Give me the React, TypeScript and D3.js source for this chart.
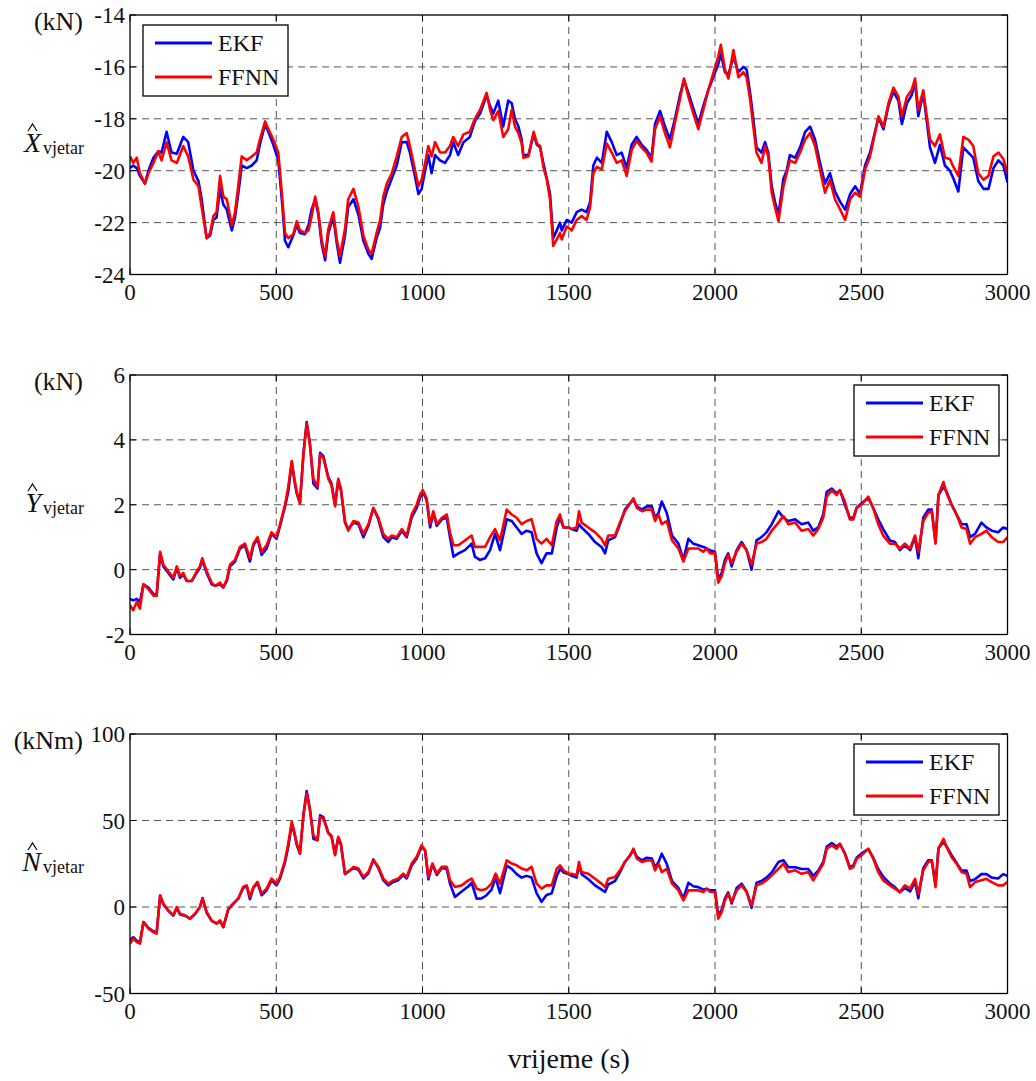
import React from 'react';
import * as d3 from 'd3';

// ---------- data ----------
const xTickValues = [0, 500, 1000, 1500, 2000, 2500, 3000];

const timesX = [0,11,23,34,51,63,80,97,108,125,142,160,182,199,217,234,245,262,274,285,296,308,319,331,348,359,370,382,399,416,433,444,462,473,490,507,519,530,541,558,570,581,598,610,621,633,644,655,667,678,695,707,718,735,746,764,781,798,815,826,843,855,866,878,895,912,929,946,957,974,986,997,1009,1020,1031,1043,1060,1077,1094,1105,1122,1140,1162,1179,1197,1219,1231,1242,1259,1276,1293,1305,1316,1328,1339,1345,1362,1380,1391,1402,1413,1425,1436,1447,1459,1470,1476,1493,1510,1527,1544,1561,1573,1584,1596,1613,1630,1647,1664,1681,1698,1715,1732,1749,1766,1783,1795,1812,1829,1846,1863,1880,1894,1909,1926,1943,1960,1977,1994,2011,2020,2034,2046,2063,2080,2097,2108,2120,2131,2142,2159,2171,2182,2194,2205,2217,2234,2245,2256,2274,2291,2308,2325,2342,2359,2376,2393,2410,2428,2445,2462,2479,2496,2513,2530,2547,2559,2576,2593,2610,2627,2639,2656,2672,2684,2695,2712,2724,2735,2752,2769,2786,2803,2815,2832,2849,2866,2883,2900,2918,2935,2952,2969,2986,3000];
const ffnnX = [-19.45,-19.7,-19.5,-20.1,-20.5,-20.1,-19.7,-19.25,-19.6,-18.9,-19.6,-19.7,-19.05,-19.45,-20.35,-20.6,-21.4,-22.6,-22.4,-21.75,-21.6,-20.2,-21.0,-21.1,-22.1,-21.6,-20.6,-19.45,-19.6,-19.45,-19.3,-18.8,-18.1,-18.4,-18.8,-19.3,-20.85,-22.4,-22.6,-22.45,-21.95,-22.3,-22.4,-22.3,-21.75,-21.0,-21.6,-22.65,-23.3,-22.25,-21.6,-22.65,-23.3,-22.25,-21.1,-20.7,-21.4,-22.5,-23.05,-23.2,-22.4,-21.9,-21.0,-20.5,-20.1,-19.45,-18.7,-18.55,-19.05,-19.95,-20.6,-20.35,-19.7,-19.05,-19.45,-18.9,-19.3,-19.3,-19.05,-18.7,-19.05,-18.6,-18.5,-18.0,-17.65,-17.0,-17.65,-18.05,-17.7,-18.7,-18.4,-17.65,-18.3,-18.55,-18.95,-19.5,-19.45,-18.5,-18.95,-19.05,-19.85,-20.35,-21.1,-22.9,-22.65,-22.4,-22.65,-22.15,-22.3,-21.9,-21.75,-21.9,-21.4,-20.1,-19.85,-19.95,-18.95,-19.3,-19.7,-19.6,-20.2,-19.2,-18.85,-19.1,-19.3,-19.65,-18.4,-17.9,-18.55,-19.1,-18.15,-17.25,-16.45,-17.15,-17.8,-18.4,-17.65,-16.9,-16.25,-15.6,-15.15,-16.1,-16.45,-15.35,-16.4,-16.2,-16.4,-17.25,-18.3,-19.3,-19.7,-19.05,-19.45,-20.85,-21.4,-21.95,-20.6,-20.1,-19.6,-19.7,-19.3,-18.8,-18.55,-19.05,-19.95,-20.85,-20.35,-21.1,-21.5,-21.9,-21.1,-20.85,-21.0,-19.95,-19.45,-18.55,-17.9,-18.3,-17.4,-16.8,-17.15,-17.9,-17.15,-16.9,-16.45,-17.65,-16.9,-17.9,-18.8,-19.05,-18.6,-19.5,-19.55,-19.85,-20.2,-18.7,-18.8,-19.05,-20.1,-20.35,-20.2,-19.45,-19.3,-19.55,-20.1];
const ekfX = [-19.9,-19.8,-19.9,-20.2,-20.5,-20.0,-19.5,-19.25,-19.3,-18.5,-19.3,-19.35,-18.7,-18.9,-20.0,-20.4,-21.1,-22.6,-22.5,-21.9,-21.8,-20.7,-21.3,-21.5,-22.3,-21.8,-20.9,-19.8,-19.9,-19.8,-19.6,-19.0,-18.2,-18.5,-19.0,-19.6,-21.1,-22.7,-22.95,-22.5,-22.1,-22.4,-22.45,-22.1,-21.5,-21.1,-21.7,-22.8,-23.45,-22.4,-21.8,-22.8,-23.55,-22.5,-21.4,-21.1,-21.7,-22.7,-23.2,-23.4,-22.6,-22.2,-21.3,-20.8,-20.3,-19.8,-18.9,-18.9,-19.3,-20.2,-20.9,-20.7,-20.0,-19.4,-20.1,-19.4,-19.6,-19.7,-19.4,-18.9,-19.4,-18.9,-18.7,-18.1,-17.8,-17.1,-17.5,-17.8,-17.3,-18.3,-17.3,-17.4,-18.0,-18.3,-18.8,-19.4,-19.4,-18.6,-19.0,-19.1,-19.7,-20.3,-20.9,-22.6,-22.3,-22.0,-22.3,-21.9,-22.0,-21.6,-21.5,-21.6,-21.2,-19.8,-19.5,-19.7,-18.5,-18.9,-19.4,-19.3,-19.9,-19.0,-18.7,-19.0,-19.2,-19.5,-18.2,-17.7,-18.3,-18.8,-18.0,-17.1,-16.5,-17.0,-17.6,-18.2,-17.5,-16.9,-16.4,-15.9,-15.5,-16.2,-16.3,-15.6,-16.2,-16.0,-16.1,-17.0,-18.0,-19.1,-19.3,-18.9,-19.3,-20.6,-21.2,-21.7,-20.3,-20.0,-19.4,-19.5,-19.1,-18.5,-18.3,-18.8,-19.7,-20.5,-20.1,-20.8,-21.2,-21.5,-20.9,-20.6,-20.9,-19.8,-19.3,-18.5,-17.95,-18.4,-17.5,-16.95,-17.3,-18.2,-17.4,-17.1,-16.6,-17.9,-17.0,-18.1,-19.1,-19.7,-19.0,-19.8,-20.0,-20.3,-20.8,-19.1,-19.3,-19.5,-20.4,-20.7,-20.7,-19.9,-19.6,-19.8,-20.45];

const timesY = [0,11,23,34,46,63,80,91,103,114,131,148,160,171,182,194,211,228,239,247,262,279,291,308,319,331,342,359,376,393,410,422,436,450,467,484,501,513,530,541,553,562,570,581,593,604,615,627,641,650,661,678,689,701,712,721,735,746,764,781,798,815,832,849,866,883,895,912,929,946,963,980,991,1001,1014,1026,1037,1049,1066,1083,1094,1106,1123,1145,1168,1179,1196,1214,1231,1248,1265,1288,1305,1322,1339,1356,1373,1390,1407,1424,1442,1459,1470,1482,1499,1510,1527,1535,1544,1567,1590,1612,1624,1635,1658,1675,1692,1710,1721,1733,1750,1767,1784,1795,1807,1818,1835,1853,1875,1892,1909,1926,1943,1960,1972,1983,2000,2011,2023,2034,2045,2057,2074,2091,2108,2125,2142,2159,2176,2194,2217,2234,2251,2274,2296,2319,2336,2353,2370,2382,2399,2416,2427,2444,2461,2473,2484,2501,2524,2541,2558,2575,2598,2615,2632,2649,2667,2684,2695,2712,2729,2741,2754,2764,2781,2792,2809,2826,2843,2860,2872,2889,2911,2928,2946,2968,2985,3000];
const ffnnY = [-1.1,-1.25,-1.0,-1.2,-0.45,-0.6,-0.8,-0.8,0.55,0.15,-0.05,-0.25,0.1,-0.2,-0.1,-0.35,-0.35,-0.05,0.1,0.35,-0.05,-0.4,-0.5,-0.4,-0.55,-0.3,0.15,0.3,0.7,0.8,0.35,0.8,1.0,0.55,0.75,1.15,1.0,1.4,2.0,2.55,3.35,2.8,2.4,2.05,3.55,4.5,3.85,2.8,2.55,3.55,3.45,2.8,2.6,1.95,2.8,2.5,1.5,1.2,1.5,1.45,1.1,1.4,1.9,1.6,1.1,0.95,1.05,1.0,1.25,1.05,1.7,2.0,2.3,2.45,2.2,1.4,1.8,1.4,1.6,1.7,1.15,0.75,0.75,0.9,1.05,0.7,0.7,0.7,1.0,1.25,0.9,1.85,1.7,1.6,1.4,1.5,1.55,0.95,0.8,0.95,0.75,1.5,1.7,1.3,1.3,1.25,1.3,1.8,1.45,1.3,1.15,0.95,0.75,1.05,1.05,1.45,1.8,2.05,2.2,1.9,1.8,1.85,1.85,1.5,1.7,1.4,1.5,0.9,0.65,0.25,0.65,0.65,0.65,0.55,0.65,0.5,0.5,-0.4,-0.2,0.2,0.45,0.2,0.55,0.8,0.6,0.15,0.8,0.85,0.95,1.2,1.45,1.65,1.4,1.45,1.2,1.25,1.05,1.25,1.6,2.25,2.45,2.3,2.45,2.1,1.55,1.55,1.9,2.0,2.25,1.9,1.4,1.05,0.8,0.8,0.65,0.8,0.65,1.05,0.55,1.5,1.75,1.8,0.8,2.3,2.7,2.35,2.0,1.7,1.3,1.25,0.8,1.0,1.1,1.2,1.0,0.85,0.85,1.0];
const ekfY = [-0.9,-0.95,-0.9,-1.0,-0.45,-0.55,-0.75,-0.8,0.5,0.1,-0.1,-0.3,0.05,-0.25,-0.15,-0.35,-0.35,-0.1,0.05,0.3,-0.1,-0.45,-0.5,-0.45,-0.55,-0.35,0.1,0.25,0.65,0.75,0.25,0.75,0.95,0.45,0.65,1.1,0.95,1.35,1.95,2.4,3.3,2.75,2.35,2.05,3.6,4.55,3.9,2.65,2.5,3.6,3.5,2.85,2.65,2.0,2.75,2.45,1.45,1.25,1.45,1.4,1.0,1.35,1.9,1.55,1.0,0.85,1.0,0.95,1.2,1.0,1.6,1.9,2.2,2.4,2.15,1.3,1.75,1.35,1.55,1.6,1.0,0.4,0.5,0.6,0.8,0.4,0.3,0.35,0.6,1.1,0.6,1.55,1.5,1.3,1.1,1.2,1.15,0.5,0.2,0.5,0.5,1.3,1.6,1.3,1.3,1.25,1.2,1.4,1.3,1.1,0.85,0.7,0.5,0.9,1.0,1.4,1.85,2.05,2.15,1.95,1.85,1.95,1.95,1.6,1.75,2.1,1.75,1.05,0.8,0.3,0.95,0.8,0.75,0.7,0.65,0.6,0.55,-0.3,-0.1,0.3,0.5,0.1,0.6,0.85,0.6,0.0,0.9,1.0,1.15,1.4,1.8,1.6,1.5,1.55,1.4,1.45,1.2,1.3,1.7,2.4,2.5,2.35,2.45,2.0,1.6,1.6,1.9,2.05,2.2,1.9,1.55,1.25,0.9,0.85,0.6,0.75,0.6,1.0,0.35,1.6,1.85,1.85,0.85,2.3,2.55,2.4,2.0,1.7,1.4,1.4,1.0,1.1,1.45,1.3,1.2,1.15,1.3,1.25];

const timesN = [0,11,23,34,46,63,80,91,103,114,131,148,160,171,188,205,222,239,248,262,279,296,308,319,336,353,370,387,399,410,422,436,450,467,484,501,513,530,541,553,562,570,581,593,604,615,627,641,650,661,678,689,701,712,721,735,746,764,781,798,815,832,849,866,883,900,917,934,946,963,980,997,1009,1020,1034,1049,1066,1083,1094,1111,1134,1157,1168,1185,1202,1219,1236,1250,1265,1288,1305,1322,1339,1356,1373,1390,1407,1424,1442,1459,1470,1482,1499,1510,1527,1535,1544,1567,1590,1612,1624,1635,1658,1675,1692,1710,1721,1733,1750,1767,1784,1795,1807,1818,1835,1853,1875,1892,1909,1926,1943,1960,1972,1983,2000,2011,2023,2034,2045,2057,2074,2091,2108,2125,2142,2159,2176,2194,2217,2234,2251,2274,2296,2319,2336,2353,2370,2382,2399,2416,2427,2444,2461,2473,2484,2501,2524,2541,2558,2575,2598,2615,2632,2649,2667,2684,2695,2712,2729,2741,2754,2764,2781,2792,2809,2826,2843,2860,2872,2889,2911,2928,2946,2968,2985,3000];
const ffnnN = [-21.2,-18.3,-20.3,-21.2,-8.7,-12.5,-14.5,-15.4,6.8,1.9,-1.9,-4.8,0,-3.9,-4.8,-6.8,-3.9,0,4.8,-2.9,-7.7,-9.7,-7.7,-11.6,-1.0,1.9,4.8,11.6,12.5,5.8,11.6,14.5,7.7,10.6,16.4,13.5,17.4,27.0,36.7,49.2,43.4,36.7,30.9,53.1,65.6,56.0,41.5,38.6,52.1,51.2,42.5,40.5,29.9,40.5,36.7,19.3,20.3,23.2,22.2,17.4,20.3,27.0,23.2,16.4,13.5,15.4,16.4,19.3,17.4,25.1,29.0,35.7,32.8,17.4,25.1,19.3,23.2,23.2,15.4,11.6,12.5,15.4,16.4,10.6,9.7,10.6,13.5,19.3,13.5,27.0,25.1,24.1,22.2,21.2,23.2,13.5,10.6,12.5,12.5,22.2,24.1,21.2,19.3,19.2,18.3,26.0,20.2,19.2,16.3,13.5,11.5,16.3,17.3,21.2,26.0,29.8,33.7,27.9,26.0,26.9,26.9,21.2,25.0,20.2,22.1,13.5,9.6,3.8,9.6,9.6,9.6,8.7,10.6,8.7,8.7,-6.7,-2.9,3.8,7.7,2.9,9.6,12.5,8.7,1.0,12.5,13.5,15.4,18.3,22.1,25.0,20.2,21.2,19.2,20.2,15.4,20.2,25.0,33.7,35.6,33.7,36.5,30.8,22.1,23.1,27.9,29.8,33.7,27.9,20.2,15.4,12.5,10.6,8.7,12.5,10.6,16.3,7.7,21.2,26.0,26.9,11.5,33.7,39.4,34.6,28.8,25.0,20.2,19.2,11.5,14.4,15.4,16.3,14.4,12.5,12.5,14.4];
const ekfN = [-19,-17.5,-19.5,-20.5,-8.7,-12,-14,-15,6.5,1.5,-2.2,-5,-0.5,-4.3,-5,-6.8,-4.2,0,5.2,-3.2,-8,-9.5,-8.2,-11.6,-1.5,1.9,4.8,11,12,4.5,11,14,6.8,9.6,15.5,12.5,16.4,26,34.7,48,42.5,36,30.9,53.5,67,57,39.5,38.6,53,52,43,41,30.5,40,36,19,20.5,22.5,21.5,16.5,19.5,27.5,22.5,15.5,12.5,14.5,15.5,18.5,16.5,24,28,35,32.5,16,24.5,18.5,22.5,22,13.5,5.8,9,12,14,4.8,5,6.8,10,17,8,24,22,19,17,18,17,8,3,7,8,18,22,20,19,18,17,24,19,16,12.5,10,8.7,13,15,20,26,30,33,29,27,28.5,28,23,26,30.8,25,15,11,5,14,12,11.5,10,10.5,9.6,9.6,-5,-1.5,5,8.5,2,11,13.5,9,-0.5,14,15,17,20,26,27,23,23,22,22,18,21,26,35,37,35,36.5,31,23,24,28.5,31,33.5,28.5,22,17.5,13.5,11.5,8.5,11,9,14.5,5,22.5,27,27,13,34,37.5,35,30,25.5,21,21,15,16,19,19,17,16.5,19,18];

const yTicksX = [-24, -22, -20, -18, -16, -14];
const yTicksY = [-2, 0, 2, 4, 6];
const yTicksN = [-50, 0, 50, 100];

const seriesNames = ['EKF', 'FFNN'];
const seriesColors = ['#0000ff', '#ff0000'];
const unitLabels = ['(kN)', '(kN)', '(kNm)'];
const symbolLetters = ['X', 'Y', 'N'];
const subscriptText = 'vjetar';
const xAxisTitle = 'vrijeme (s)';

// ---------- layout ----------
const W = 1036;
const H = 1081;
const PL = 130;
const PR = 1007.5;
const PH = 259.5;
const FONT = 'Liberation Serif, DejaVu Serif, serif';

type PanelDef = {
  top: number;
  domain: [number, number];
  ticks: number[];
  times: number[];
  ekf: number[];
  ffnn: number[];
  unit: string;
  sym: string;
  legendLeft: boolean;
};

const panels: PanelDef[] = [
  { top: 15, domain: [-24, -14], ticks: yTicksX, times: timesX, ekf: ekfX, ffnn: ffnnX, unit: unitLabels[0], sym: symbolLetters[0], legendLeft: true },
  { top: 375, domain: [-2, 6], ticks: yTicksY, times: timesY, ekf: ekfY, ffnn: ffnnY, unit: unitLabels[1], sym: symbolLetters[1], legendLeft: false },
  { top: 734, domain: [-50, 100], ticks: yTicksN, times: timesN, ekf: ekfN, ffnn: ffnnN, unit: unitLabels[2], sym: symbolLetters[2], legendLeft: false },
];

const xScale = d3.scaleLinear().domain([0, 3000]).range([PL, PR]);

const txt = (size: number, extra: React.CSSProperties = {}): React.CSSProperties => ({
  fontFamily: FONT,
  fontSize: `${size}px`,
  ...extra,
});

function Panel({ p, idx }: { p: PanelDef; idx: number }) {
  const bottom = p.top + PH;
  const y = d3.scaleLinear().domain(p.domain).range([bottom, p.top]);
  const mk = (vals: number[]) =>
    d3.line<number>().x((_, i) => xScale(p.times[i])).y((d) => y(d))(vals) || '';
  const clipId = `clip${idx}`;
  const lgW = 145;
  const lgH = 71;
  const lgX = p.legendLeft ? PL + 13 : PR - 8.5 - lgW;
  const lgY = p.top + 10;
  const gridColor = '#555';
  const tickLen = 6;
  return (
    <g>
      <defs>
        <clipPath id={clipId}>
          <rect x={PL} y={p.top} width={PR - PL} height={PH} />
        </clipPath>
      </defs>
      <rect x={PL} y={p.top} width={PR - PL} height={PH} fill="#fff" />
      {xTickValues.slice(1, -1).map((t) => (
        <line key={'gx' + t} x1={xScale(t)} x2={xScale(t)} y1={p.top} y2={bottom} stroke={gridColor} strokeWidth={1} strokeDasharray="7,5" />
      ))}
      {p.ticks.slice(1, -1).map((v) => (
        <line key={'gy' + v} x1={PL} x2={PR} y1={y(v)} y2={y(v)} stroke={gridColor} strokeWidth={1} strokeDasharray="7,5" />
      ))}
      {xTickValues.map((t) => (
        <g key={'tx' + t}>
          <line x1={xScale(t)} x2={xScale(t)} y1={bottom} y2={bottom - tickLen} stroke="#000" />
          <line x1={xScale(t)} x2={xScale(t)} y1={p.top} y2={p.top + tickLen} stroke="#000" />
          <text x={xScale(t)} y={bottom + 25} textAnchor="middle" style={txt(23)} fill="#111">{t}</text>
        </g>
      ))}
      {p.ticks.map((v) => (
        <g key={'ty' + v}>
          <line x1={PL} x2={PL + tickLen} y1={y(v)} y2={y(v)} stroke="#000" />
          <line x1={PR} x2={PR - tickLen} y1={y(v)} y2={y(v)} stroke="#000" />
          <text x={PL - 5} y={y(v)} dy="0.35em" textAnchor="end" style={txt(23)} fill="#111">{v}</text>
        </g>
      ))}
      <g clipPath={`url(#${clipId})`}>
        <path d={mk(p.ekf)} fill="none" stroke={seriesColors[0]} strokeWidth={2.6} strokeLinejoin="round" />
        <path d={mk(p.ffnn)} fill="none" stroke={seriesColors[1]} strokeWidth={2.6} strokeLinejoin="round" />
      </g>
      <rect x={PL} y={p.top} width={PR - PL} height={PH} fill="none" stroke="#000" strokeWidth={1.3} />
      <g>
        <rect x={lgX} y={lgY} width={lgW} height={lgH} fill="#fff" stroke="#000" strokeWidth={1.3} />
        {seriesNames.map((n, i) => (
          <g key={n}>
            <line x1={lgX + 12} x2={lgX + 69} y1={lgY + 18 + i * 34} y2={lgY + 18 + i * 34} stroke={seriesColors[i]} strokeWidth={2.8} />
            <text x={lgX + 75} y={lgY + 18 + i * 34} dy="0.34em" style={txt(24)} fill="#111">{n}</text>
          </g>
        ))}
      </g>
      <text x={83} y={p.top + 15} textAnchor="end" style={txt(26)} fill="#111">{p.unit}</text>
      <text x={41} y={p.top + 137} textAnchor="end" style={txt(28, { fontStyle: 'italic' })} fill="#111">{p.sym}</text>
      <path d={`M ${28} ${p.top + 116} L ${32.5} ${p.top + 109} L ${37} ${p.top + 116}`} fill="none" stroke="#111" strokeWidth={1.3} />
      <text x={43} y={p.top + 139} style={txt(18)} fill="#111">{subscriptText}</text>
    </g>
  );
}

export default function App() {
  return (
    <svg width={W} height={H} viewBox={`0 0 ${W} ${H}`} style={{ position: 'absolute', left: 0, top: 0, display: 'block', background: '#fff' }}>
      <rect x={0} y={0} width={W} height={H} fill="#fff" />
      {panels.map((p, i) => (
        <Panel key={i} p={p} idx={i} />
      ))}
      <text x={(PL + PR) / 2} y={1068} textAnchor="middle" style={txt(28)} fill="#111">{xAxisTitle}</text>
    </svg>
  );
}
